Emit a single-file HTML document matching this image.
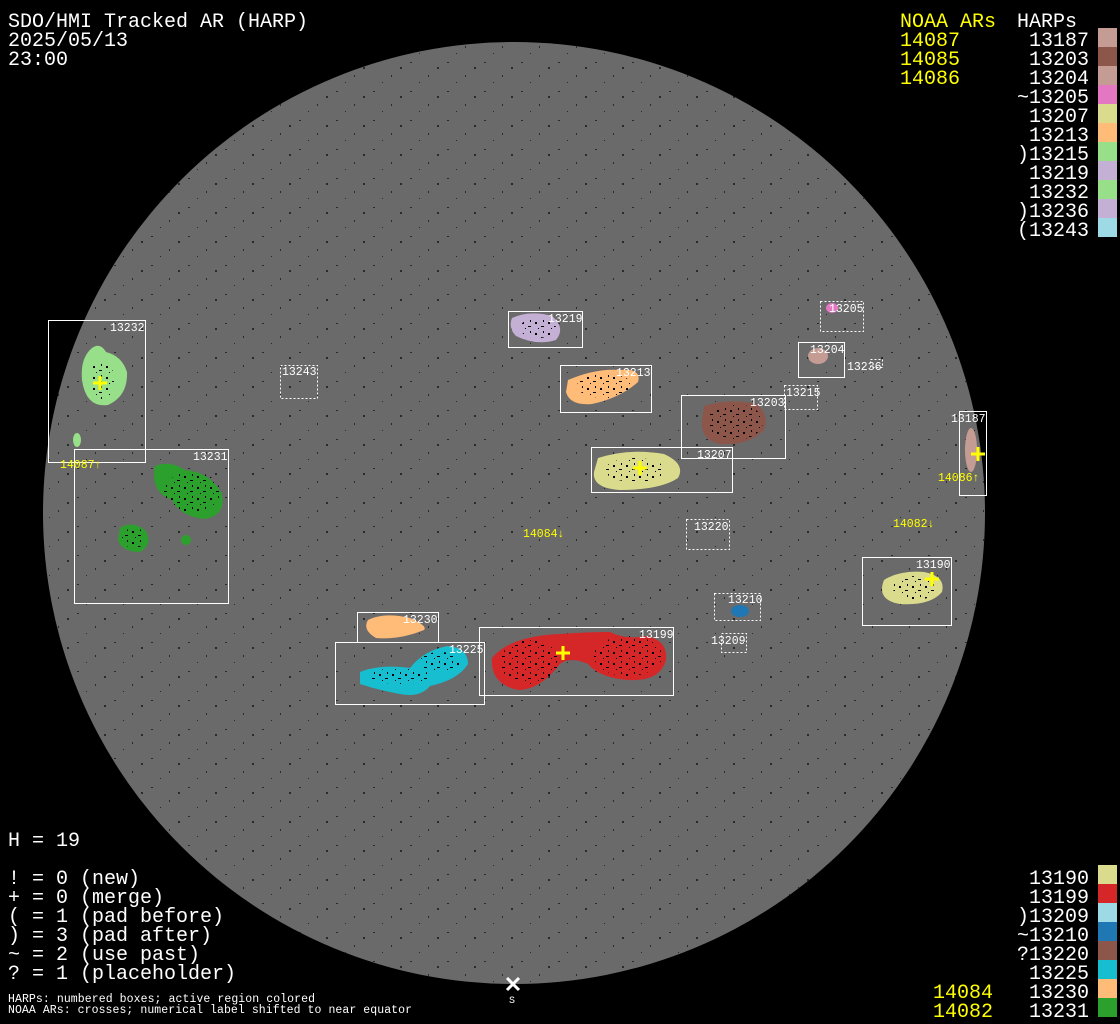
<!DOCTYPE html>
<html><head><meta charset="utf-8"><style>
html,body{margin:0;padding:0;background:#000;width:1120px;height:1024px;overflow:hidden}
svg{display:block}
text{font-family:"Liberation Mono","DejaVu Sans Mono",monospace}
.t{font-size:20px;fill:#fff}
.y{font-size:20px;fill:#ffff00}
.s{font-size:11.5px;fill:#fff}
.sy{font-size:11.5px;fill:#ffff00}
.b{fill:none;stroke:#fff;stroke-width:1}
.d{fill:none;stroke:#fff;stroke-width:1;stroke-dasharray:2,2}
</style></head><body>
<svg width="1120" height="1024" viewBox="0 0 1120 1024">
<defs>
<pattern id="sp" width="37" height="29" patternUnits="userSpaceOnUse">
<rect x="3" y="4" width="2" height="1" fill="#000"/>
<rect x="21" y="17" width="1" height="2" fill="#000"/>
<rect x="30" y="9" width="2" height="2" fill="#000"/>
<rect x="12" y="24" width="1" height="1" fill="#000"/>
</pattern>
<pattern id="ar" width="13" height="11" patternUnits="userSpaceOnUse">
<rect x="2" y="3" width="2" height="2" fill="#000"/>
<rect x="8" y="7" width="3" height="1" fill="#000"/>
<rect x="10" y="1" width="1" height="2" fill="#000"/>
<rect x="5" y="9" width="1" height="1" fill="#000"/>
</pattern>
<clipPath id="disk"><circle cx="514" cy="513" r="471"/></clipPath>
</defs>
<rect width="1120" height="1024" fill="#000"/>
<circle cx="514" cy="513" r="471" fill="#6a6a6a"/>
<rect x="43" y="42" width="942" height="942" fill="url(#sp)" clip-path="url(#disk)" opacity=".6"/>

<!-- regions -->
<g id="regs">
<path d="M92 348 Q100 342 106 352 Q122 356 127 372 Q128 396 108 405 Q86 408 82 380 Q80 358 92 348Z" fill="#98df8a"/>
<ellipse cx="77" cy="440" rx="4" ry="7" fill="#98df8a"/>
<path d="M155 466 Q170 460 185 470 Q210 472 222 494 Q226 516 204 519 Q180 516 172 500 Q150 492 155 466Z" fill="#2ca02c"/>
<path d="M120 528 Q132 520 145 530 Q154 544 140 552 Q122 552 118 540Z" fill="#2ca02c"/>
<circle cx="186" cy="540" r="5" fill="#2ca02c"/>
<path d="M512 318 Q530 310 552 316 Q566 328 556 340 Q536 346 516 336 Q508 328 512 318Z" fill="#c5b0d5"/>
<path d="M568 380 Q596 368 620 370 Q642 368 638 382 Q620 398 592 404 Q570 406 566 392Z" fill="#ffbb78"/>
<path d="M704 406 Q730 398 756 404 Q770 414 764 430 Q748 446 720 444 Q700 440 702 420Z" fill="#8c564b"/>
<path d="M598 458 Q630 448 664 454 Q686 464 678 478 Q660 490 620 490 Q592 488 594 472Z" fill="#dbdb8d"/>
<ellipse cx="818" cy="356" rx="10" ry="8" fill="#c49c94"/>
<ellipse cx="832" cy="308" rx="6" ry="5" fill="#e377c2"/>
<ellipse cx="971" cy="450" rx="6" ry="22" fill="#c49c94"/>
<path d="M884 580 Q900 570 924 572 Q946 576 942 592 Q930 606 900 604 Q876 600 884 580Z" fill="#dbdb8d"/>
<ellipse cx="740" cy="611" rx="9" ry="6" fill="#1f77b4"/>
<path d="M368 620 Q384 612 410 618 Q428 626 424 630 Q400 640 376 638 Q362 630 368 620Z" fill="#ffbb78"/>
<path d="M360 672 Q380 664 410 668 Q424 650 448 646 Q468 648 468 664 Q458 680 430 686 Q420 698 400 694 Q378 690 360 684Z" fill="#17becf"/>
<path d="M492 658 Q510 636 560 634 Q588 632 610 632 Q626 640 646 636 Q668 640 666 660 Q660 682 628 680 Q600 678 588 664 Q570 656 560 664 Q540 690 518 690 Q490 684 492 658Z" fill="#d62728"/>
</g>
<g fill="url(#ar)">
<ellipse cx="102" cy="380" rx="12" ry="20"/>
<ellipse cx="192" cy="492" rx="28" ry="20"/>
<ellipse cx="134" cy="538" rx="12" ry="10"/>
<ellipse cx="538" cy="328" rx="18" ry="10"/>
<ellipse cx="605" cy="386" rx="28" ry="12"/>
<ellipse cx="735" cy="422" rx="28" ry="18"/>
<ellipse cx="635" cy="470" rx="30" ry="12"/>
<ellipse cx="915" cy="588" rx="22" ry="12"/>
<ellipse cx="530" cy="662" rx="30" ry="22"/>
<ellipse cx="628" cy="656" rx="34" ry="20"/>
<ellipse cx="400" cy="676" rx="30" ry="8"/>
<ellipse cx="440" cy="662" rx="20" ry="10"/>
</g>

<!-- boxes -->
<rect class="b" x="48.5" y="320.5" width="97" height="142"/>
<rect class="b" x="74.5" y="449.5" width="154" height="154"/>
<rect class="d" x="280.5" y="365.5" width="37" height="33"/>
<rect class="b" x="508.5" y="311.5" width="74" height="36"/>
<rect class="b" x="560.5" y="365.5" width="91" height="47"/>
<rect class="b" x="681.5" y="395.5" width="104" height="63"/>
<rect class="b" x="591.5" y="447.5" width="141" height="45"/>
<rect class="d" x="820.5" y="301.5" width="43" height="30"/>
<rect class="b" x="798.5" y="342.5" width="46" height="35"/>
<rect class="d" x="870.5" y="359.5" width="12" height="8"/>
<rect class="d" x="784.5" y="385.5" width="33" height="24"/>
<rect class="b" x="959.5" y="411.5" width="27" height="84"/>
<rect class="d" x="686.5" y="519.5" width="43" height="30"/>
<rect class="b" x="862.5" y="557.5" width="89" height="68"/>
<rect class="d" x="714.5" y="593.5" width="46" height="27"/>
<rect class="d" x="721.5" y="633.5" width="25" height="19"/>
<rect class="b" x="357.5" y="612.5" width="81" height="30"/>
<rect class="b" x="335.5" y="642.5" width="149" height="62"/>
<rect class="b" x="479.5" y="627.5" width="194" height="68"/>

<g class="s">
<text x="110" y="331">13232</text><text x="193" y="460">13231</text>
<text x="282" y="375">13243</text><text x="548" y="322">13219</text>
<text x="616" y="376">13213</text><text x="750" y="406">13203</text>
<text x="697" y="458">13207</text><text x="829" y="312">13205</text>
<text x="810" y="353">13204</text><text x="847" y="370">13236</text>
<text x="786" y="396">13215</text><text x="951" y="422">13187</text>
<text x="694" y="530">13220</text><text x="916" y="568">13190</text>
<text x="728" y="603">13210</text><text x="711" y="644">13209</text>
<text x="403" y="623">13230</text><text x="449" y="653">13225</text>
<text x="639" y="638">13199</text>
</g>
<g class="sy">
<text x="60" y="468">14087↑</text><text x="938" y="481">14086↑</text>
<text x="523" y="537">14084↓</text><text x="893" y="527">14082↓</text>
</g>
<g stroke="#ffff00" stroke-width="3">
<path d="M100 376v14M93 383h14"/><path d="M563 646v14M556 653h14"/>
<path d="M640 461v14M633 468h14"/><path d="M978 447v14M971 454h14"/>
<path d="M932 572v14M925 579h14"/>
</g>
<path d="M507 978l12 12M519 978l-12 12" stroke="#fff" stroke-width="3"/>
<text class="s" x="509" y="1003" style="font-size:10px">S</text>

<!-- header -->
<text class="t" x="8" y="27">SDO/HMI Tracked AR (HARP)</text>
<text class="t" x="8" y="46">2025/05/13</text>
<text class="t" x="8" y="65">23:00</text>

<text class="y" x="900" y="27">NOAA ARs</text>
<text class="y" x="900" y="46">14087</text>
<text class="y" x="900" y="65">14085</text>
<text class="y" x="900" y="84">14086</text>
<text class="t" x="1017" y="27">HARPs</text>
<g class="t" text-anchor="end">
<text x="1089" y="46">13187</text><text x="1089" y="65">13203</text>
<text x="1089" y="84">13204</text><text x="1089" y="103">~13205</text>
<text x="1089" y="122">13207</text><text x="1089" y="141">13213</text>
<text x="1089" y="160">)13215</text><text x="1089" y="179">13219</text>
<text x="1089" y="198">13232</text><text x="1089" y="217">)13236</text>
<text x="1089" y="236">(13243</text>
</g>
<rect x="1098" y="28" width="19" height="19" fill="#c49c94"/>
<rect x="1098" y="47" width="19" height="19" fill="#8c564b"/>
<rect x="1098" y="66" width="19" height="19" fill="#c49c94"/>
<rect x="1098" y="85" width="19" height="19" fill="#e377c2"/>
<rect x="1098" y="104" width="19" height="19" fill="#dbdb8d"/>
<rect x="1098" y="123" width="19" height="19" fill="#ffbb78"/>
<rect x="1098" y="142" width="19" height="19" fill="#98df8a"/>
<rect x="1098" y="161" width="19" height="19" fill="#c5b0d5"/>
<rect x="1098" y="180" width="19" height="19" fill="#98df8a"/>
<rect x="1098" y="199" width="19" height="19" fill="#c5b0d5"/>
<rect x="1098" y="218" width="19" height="19" fill="#9edae5"/>

<!-- bottom-left -->
<text class="t" x="8" y="846">H = 19</text>
<text class="t" x="8" y="884">! = 0 (new)</text>
<text class="t" x="8" y="903">+ = 0 (merge)</text>
<text class="t" x="8" y="922">( = 1 (pad before)</text>
<text class="t" x="8" y="941">) = 3 (pad after)</text>
<text class="t" x="8" y="960">~ = 2 (use past)</text>
<text class="t" x="8" y="979">? = 1 (placeholder)</text>
<text class="s" x="8" y="1002" textLength="307">HARPs: numbered boxes; active region colored</text>
<text class="s" x="8" y="1013" textLength="404">NOAA ARs: crosses; numerical label shifted to near equator</text>

<!-- bottom-right -->
<text class="y" x="933" y="998">14084</text>
<text class="y" x="933" y="1017">14082</text>
<g class="t" text-anchor="end">
<text x="1089" y="884">13190</text><text x="1089" y="903">13199</text>
<text x="1089" y="922">)13209</text><text x="1089" y="941">~13210</text>
<text x="1089" y="960">?13220</text><text x="1089" y="979">13225</text>
<text x="1089" y="998">13230</text><text x="1089" y="1017">13231</text>
</g>
<rect x="1098" y="865" width="19" height="19" fill="#dbdb8d"/>
<rect x="1098" y="884" width="19" height="19" fill="#d62728"/>
<rect x="1098" y="903" width="19" height="19" fill="#9edae5"/>
<rect x="1098" y="922" width="19" height="19" fill="#1f77b4"/>
<rect x="1098" y="941" width="19" height="19" fill="#8c564b"/>
<rect x="1098" y="960" width="19" height="19" fill="#17becf"/>
<rect x="1098" y="979" width="19" height="19" fill="#ffbb78"/>
<rect x="1098" y="998" width="19" height="19" fill="#2ca02c"/>
</svg>
</body></html>
